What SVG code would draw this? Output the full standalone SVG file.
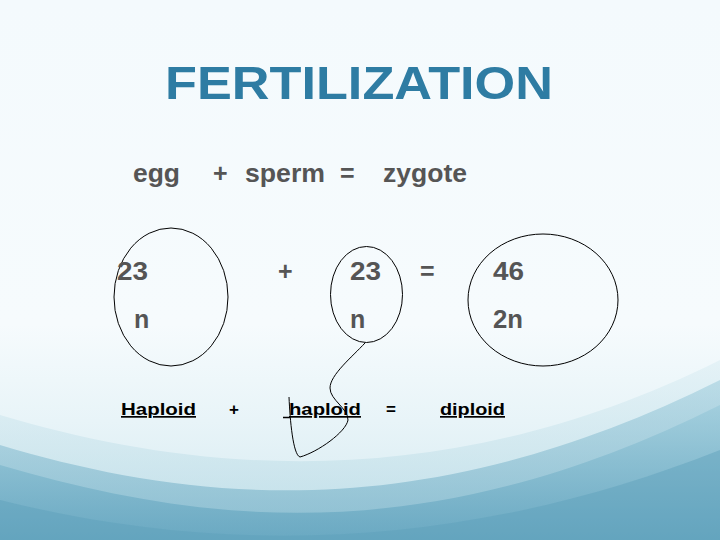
<svg xmlns="http://www.w3.org/2000/svg" width="720" height="540" viewBox="0 0 720 540">
<defs>
<linearGradient id="bg" x1="0" y1="0" x2="0" y2="1">
<stop offset="0" stop-color="#f4fafd"/>
<stop offset="0.6" stop-color="#f6fbfd"/>
<stop offset="0.78" stop-color="#e8f4f8"/>
<stop offset="1" stop-color="#d3e9f0"/>
</linearGradient>
<linearGradient id="w1" x1="0" y1="0" x2="0" y2="1">
<stop offset="0" stop-color="#d8ecf2"/>
<stop offset="1" stop-color="#a9d2df"/>
</linearGradient>
<linearGradient id="w2" x1="0" y1="0" x2="0" y2="1">
<stop offset="0" stop-color="#9ccbdb"/>
<stop offset="1" stop-color="#5fa2bd"/>
</linearGradient>
<style>
.t{font-family:"Liberation Sans",Arial,sans-serif;font-weight:bold;fill:#555555;font-size:25px}
.u{font-family:"Liberation Sans",Arial,sans-serif;font-weight:bold;fill:#000;font-size:17px}
.ul{text-decoration:underline}
.c{fill:none;stroke:#000;stroke-width:1}
</style>
</defs>
<rect width="720" height="540" fill="url(#bg)"/>
<path d="M0,415 C200,475 450,495 720,360 L720,540 L0,540 Z" fill="url(#w1)" opacity="0.5"/>
<path d="M0,445 C200,505 430,525 720,380 L720,540 L0,540 Z" fill="url(#w2)" opacity="0.55"/>
<path d="M0,465 C220,530 440,545 720,405 L720,540 L0,540 Z" fill="url(#w2)" opacity="0.75"/>
<path d="M0,500 C240,560 480,545 720,450 L720,540 L0,540 Z" fill="#5d9fba" opacity="0.45"/>

<text x="165" y="99" font-family="Liberation Sans, Arial, sans-serif" font-weight="bold" font-size="46" fill="#2e7ca3" textLength="388" lengthAdjust="spacingAndGlyphs">FERTILIZATION</text>

<g id="row1">
<text class="t" x="133" y="182" textLength="47" lengthAdjust="spacingAndGlyphs">egg</text>
<text class="t" x="213" y="182">+</text>
<text class="t" x="245" y="182" textLength="80" lengthAdjust="spacingAndGlyphs">sperm</text>
<text class="t" x="340" y="182">=</text>
<text class="t" x="383" y="182" textLength="84" lengthAdjust="spacingAndGlyphs">zygote</text>
</g>

<g id="egg">
<ellipse class="c" cx="171" cy="297" rx="57" ry="69"/>
<text class="t" x="117" y="280" textLength="31" lengthAdjust="spacingAndGlyphs">23</text>
<text class="t" x="134" y="328">n</text>
</g>
<text class="t" x="278" y="280">+</text>
<g id="sperm">
<ellipse class="c" cx="366.5" cy="294.5" rx="36" ry="48"/>
<text class="t" x="350" y="280" textLength="31" lengthAdjust="spacingAndGlyphs">23</text>
<text class="t" x="350" y="328">n</text>
</g>
<text class="t" x="420" y="280">=</text>
<g id="zygote">
<ellipse class="c" cx="543" cy="300" rx="75" ry="66"/>
<text class="t" x="493" y="280" textLength="31" lengthAdjust="spacingAndGlyphs">46</text>
<text class="t" x="493" y="328" textLength="30" lengthAdjust="spacingAndGlyphs">2n</text>
</g>

<g id="connectors">
<path class="c" d="M365,343 C352,357 330,375 330,388 C330,400 348,408 348,420 C346,432 318,452 300,457 C293,455 290,420 289,397"/>
</g>

<g id="row4">
<text class="u ul" x="121" y="415" textLength="75" lengthAdjust="spacingAndGlyphs">Haploid</text>
<text class="u" x="229" y="415">+</text>
<line x1="283" y1="417.5" x2="290" y2="417.5" stroke="#000" stroke-width="1.5"/>
<text class="u ul" x="289" y="415" textLength="72" lengthAdjust="spacingAndGlyphs">haploid</text>
<text class="u" x="386" y="415">=</text>
<text class="u ul" x="440" y="415" textLength="65" lengthAdjust="spacingAndGlyphs">diploid</text>
</g>
</svg>
